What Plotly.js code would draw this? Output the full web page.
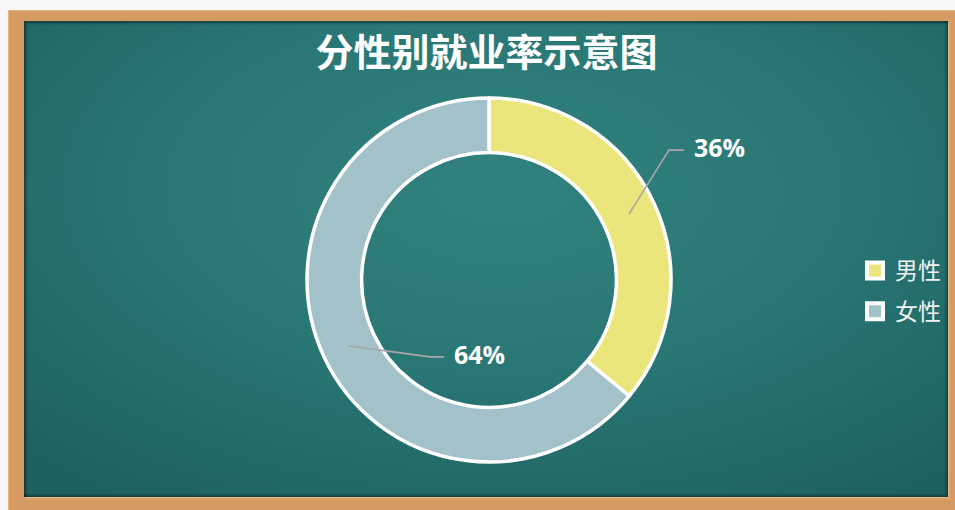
<!DOCTYPE html>
<html><head><meta charset="utf-8">
<script src="https://cdn.plot.ly/plotly-3.0.1.min.js"></script>
<style>
html,body{margin:0;padding:0;width:955px;height:510px;overflow:hidden;background:#f8f8f8;}
#frame{position:absolute;left:8px;top:10px;width:960px;height:520px;background:#d59b63;
  box-shadow: inset 1px 1px 0 #e6b585;}
#board{position:absolute;left:24px;top:21px;width:924px;height:476px;
  background: radial-gradient(ellipse 75% 80% at 52% 35%, #30817f 0%, #2a7876 45%, #226b69 75%, #1d615f 100%);
  box-shadow: inset 2px 2px 3px rgba(0,0,0,0.45), inset -2px -2px 3px rgba(0,0,0,0.35), 1px 1px 2px rgba(255,230,200,0.5);}
#chart{position:absolute;left:0;top:0;width:955px;height:510px;}
</style></head>
<body>
<div id="frame"></div>
<div id="board"></div>
<div id="chart"></div>
<script>
// ---- data ----
const categories = ['男性', '女性'];
const values = [36, 64];
const sliceColors = ['#ebe67b', '#a3c1c8'];
const chartTitle = '分性别就业率示意图';

// ---- layout constants (pixels) ----
const W = 955, H = 510;
const cx = 489, cy = 280, R = 182, hole = 0.70;
// leader line style per label: bend offset from anchor, horizontal tail length
const leaderStyle = [
  {bend: [40, -64], tail: 15},
  {bend: [81, 11], tail: 14}
];

const total = values.reduce((a, b) => a + b, 0);
const rMid = R * (1 + hole) / 2;

const shapes = [];
const annotations = [];
let cum = 0;
values.forEach((v, i) => {
  const midFrac = (cum + v / 2) / total;
  cum += v;
  const ang = midFrac * 2 * Math.PI; // clockwise from top
  const sx = cx + rMid * Math.sin(ang);
  const sy = cy - rMid * Math.cos(ang);
  const st = leaderStyle[i];
  const bx = sx + st.bend[0], by = sy + st.bend[1];
  const ex = bx + st.tail, ey = by;
  shapes.push({
    type: 'path', xref: 'x', yref: 'y', layer: 'above',
    path: `M${sx},${sy} L${bx},${by} L${ex},${ey}`,
    line: {color: '#a8a8a8', width: 1.6}
  });
  annotations.push({
    xref: 'x', yref: 'y', x: ex + 8, y: ey - 3, xanchor: 'left', yanchor: 'middle',
    showarrow: false, text: Math.round(v / total * 100) + '%',
    font: {family: 'Open Sans, Noto Sans, sans-serif', size: 25, color: '#ffffff', weight: 'bold'}
  });
});

const traces = [{
  type: 'pie',
  labels: categories,
  values: values,
  hole: hole,
  sort: false,
  direction: 'clockwise',
  rotation: 0,
  textinfo: 'none',
  hoverinfo: 'label+percent',
  showlegend: false,
  marker: {colors: sliceColors, line: {color: '#ffffff', width: 3.5}},
  domain: {x: [(cx - R) / W, (cx + R) / W], y: [1 - (cy + R) / H, 1 - (cy - R) / H]}
}];
categories.forEach((c, i) => {
  traces.push({
    type: 'scatter', mode: 'markers', x: [null], y: [null], name: c,
    legendgroup: 'g' + i, showlegend: true, hoverinfo: 'skip',
    marker: {symbol: 'square', size: 16, color: sliceColors[i], line: {color: '#ffffff', width: 4}}
  });
});

const layout = {
  width: W, height: H,
  margin: {l: 0, r: 0, t: 0, b: 0, pad: 0},
  paper_bgcolor: 'rgba(0,0,0,0)',
  plot_bgcolor: 'rgba(0,0,0,0)',
  title: {
    text: chartTitle, x: 486.5 / W, xanchor: 'center', y: 1 - 53 / H, yanchor: 'middle', xref: 'paper', yref: 'paper',
    font: {family: 'Noto Sans CJK SC', size: 38, color: '#ffffff', weight: 'bold'}
  },
  xaxis: {range: [0, W], visible: false, fixedrange: true},
  yaxis: {range: [H, 0], visible: false, fixedrange: true},
  showlegend: true,
  legend: {
    x: 855 / W, xanchor: 'left', y: 1 - 249 / H, yanchor: 'top',
    traceorder: 'grouped', tracegroupgap: 8,
    bgcolor: 'rgba(0,0,0,0)',
    font: {family: 'Noto Sans CJK SC', size: 23, color: '#f2f2f2'}
  },
  shapes: shapes,
  annotations: annotations
};

Plotly.newPlot('chart', traces, layout, {displayModeBar: false, staticPlot: true});
</script>
</body></html>
